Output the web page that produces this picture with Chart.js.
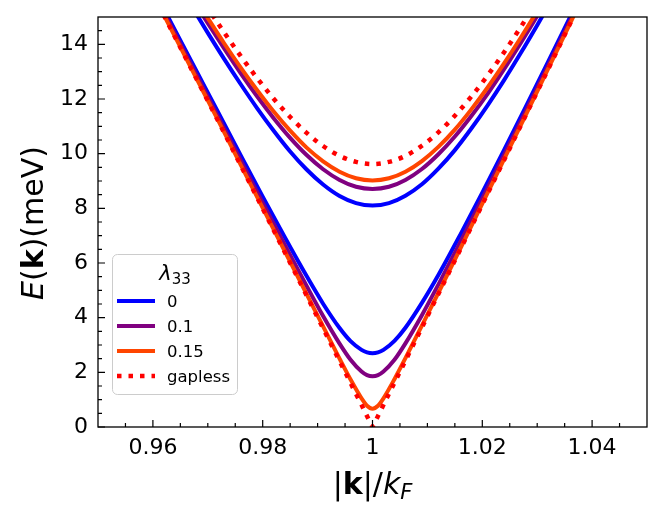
<!DOCTYPE html>
<html><head><meta charset="utf-8">
<script src="https://cdn.jsdelivr.net/npm/chart.js@4.4.1/dist/chart.umd.min.js"></script>
<style>html,body{margin:0;padding:0;background:#fff}canvas{display:block}</style>
</head><body>
<canvas id="c" width="665" height="521" style="width:665px;height:521px"></canvas>
<script>
// ---- data ----
const kUpper = [0.964,0.967,0.970,0.973,0.976,0.979,0.982,0.985,0.988,0.991,0.994,0.997,1.000,1.003,1.006,1.009,1.012,1.015,1.018,1.021,1.024,1.027,1.030,1.033,1.036];
const upperBlue   = [16.41,15.41,14.42,13.46,12.54,11.66,10.84,10.08,9.42,8.87,8.45,8.19,8.10,8.19,8.46,8.88,9.45,10.13,10.92,11.78,12.70,13.68,14.70,15.75,16.83];
const upperPurple = [16.72,15.73,14.77,13.84,12.94,12.09,11.30,10.58,9.95,9.43,9.04,8.79,8.71,8.79,9.04,9.44,9.98,10.63,11.38,12.20,13.10,14.05,15.04,16.07,17.13];
const upperOrange = [16.89,15.91,14.96,14.03,13.15,12.32,11.54,10.84,10.22,9.72,9.34,9.10,9.02,9.10,9.34,9.73,10.25,10.88,11.62,12.43,13.31,14.24,15.22,16.24,17.29];
const upperRed    = [17.21,16.26,15.33,14.43,13.57,12.76,12.01,11.34,10.76,10.28,9.92,9.70,9.62,9.70,9.92,10.29,10.78,11.39,12.09,12.87,13.72,14.63,15.59,16.58,17.61];

const kLower = [0.960,0.964,0.968,0.972,0.976,0.980,0.984,0.988,0.991,0.994,0.996,0.998,0.999,1.000,1.001,1.002,1.004,1.006,1.009,1.012,1.016,1.020,1.024,1.028,1.032,1.036,1.040];
const lowerBlue   = [16.06,14.53,13.00,11.47,9.94,8.43,6.95,5.52,4.51,3.62,3.14,2.82,2.73,2.70,2.73,2.82,3.15,3.63,4.54,5.56,7.04,8.57,10.15,11.75,13.37,15.00,16.64];
const lowerPurple = [15.94,14.40,12.85,11.30,9.75,8.20,6.67,5.16,4.06,3.05,2.46,2.03,1.90,1.86,1.90,2.03,2.46,3.06,4.09,5.21,6.76,8.35,9.96,11.59,13.22,14.87,16.53];
const lowerOrange = [15.85,14.29,12.73,11.17,9.59,8.02,6.44,4.86,3.68,2.50,1.74,1.05,0.78,0.67,0.78,1.05,1.75,2.52,3.71,4.91,6.53,8.17,9.81,11.45,13.11,14.77,16.44];
const lowerRed    = [15.83,14.28,12.71,11.15,9.57,7.99,6.40,4.81,3.61,2.41,1.61,0.81,0.40,0,0.40,0.81,1.62,2.43,3.64,4.87,6.50,8.14,9.78,11.44,13.09,14.76,16.42];

const seriesLabels = ['0','0.1','0.15','gapless'];
const legendTitle = 'λ';
const legendTitleSub = '33';

const xMajorTicks = [0.96,0.98,1.00,1.02,1.04];
const xTickLabels = ['0.96','0.98','1','1.02','1.04'];
const xMinorTicks = [0.955,0.965,0.97,0.975,0.985,0.99,0.995,1.005,1.01,1.015,1.025,1.03,1.035,1.045];
const yMajorTicks = [0,2,4,6,8,10,12,14];
const yTickLabels = ['0','2','4','6','8','10','12','14'];
const yMinorTicks = [0.5,1,1.5,2.5,3,3.5,4.5,5,5.5,6.5,7,7.5,8.5,9,9.5,10.5,11,11.5,12.5,13,13.5,14.5];

// ---- styles ----
const seriesColors = ['#0000ff','#800080','#ff4500','#ff0000'];
const FONT = "'DejaVu Sans', 'Liberation Sans', sans-serif";

function pairs(xs, ys){ return xs.map((x,i)=>({x:x, y:ys[i]})); }

const upperSets = [upperBlue, upperPurple, upperOrange, upperRed];
const lowerSets = [lowerBlue, lowerPurple, lowerOrange, lowerRed];
const datasets = [];
for (let i = 0; i < 4; i++) {
  const dotted = (i === 3);
  const common = {
    borderColor: seriesColors[i],
    borderWidth: dotted ? 4.5 : 4,
    borderDash: dotted ? [4.5, 7] : [],
    borderCapStyle: 'butt',
    borderJoinStyle: 'round',
    pointRadius: 0,
    fill: false,
    clip: 0,
    order: 3 - i
  };
  datasets.push(Object.assign({label: seriesLabels[i], data: pairs(kUpper, upperSets[i]), cubicInterpolationMode: 'monotone'}, common));
  datasets.push(Object.assign({label: seriesLabels[i], data: pairs(kLower, lowerSets[i]),
    cubicInterpolationMode: dotted ? 'default' : 'monotone', tension: 0}, common));
}

function drawRich(ctx, segs, x, y) {
  let total = 0;
  segs.forEach(s => { ctx.font = s.font; s.w = ctx.measureText(s.t).width; total += s.w; });
  let cx = x - total / 2;
  ctx.textBaseline = 'alphabetic';
  ctx.textAlign = 'left';
  segs.forEach(s => { ctx.font = s.font; ctx.fillText(s.t, cx, y + (s.dy || 0)); cx += s.w; });
}

const framePlugin = {
  id: 'frameTicks',
  afterDatasetsDraw(chart) {
    const ctx = chart.ctx, a = chart.chartArea;
    const xs = chart.scales.x, ys = chart.scales.y;
    ctx.save();
    ctx.strokeStyle = '#000';
    ctx.lineWidth = 1.2;
    ctx.beginPath();
    xMajorTicks.forEach(v => { const p = xs.getPixelForValue(v); ctx.moveTo(p, a.bottom); ctx.lineTo(p, a.bottom - 7); });
    xMinorTicks.forEach(v => { const p = xs.getPixelForValue(v); ctx.moveTo(p, a.bottom); ctx.lineTo(p, a.bottom - 4); });
    yMajorTicks.forEach(v => { const p = ys.getPixelForValue(v); ctx.moveTo(a.left, p); ctx.lineTo(a.left + 7, p); });
    yMinorTicks.forEach(v => { const p = ys.getPixelForValue(v); ctx.moveTo(a.left, p); ctx.lineTo(a.left + 4, p); });
    ctx.stroke();
    ctx.lineWidth = 1.3;
    ctx.strokeRect(a.left, a.top, a.right - a.left, a.bottom - a.top);
    ctx.restore();
  },
  afterDraw(chart) {
    const ctx = chart.ctx;
    ctx.save();
    // axis titles
    ctx.fillStyle = '#000';
    drawRich(ctx, [
      {t: '|', font: `30px ${FONT}`},
      {t: 'k', font: `bold 30px ${FONT}`},
      {t: '|/', font: `30px ${FONT}`},
      {t: 'k', font: `italic 30px ${FONT}`},
      {t: 'F', font: `italic 21px ${FONT}`, dy: 5}
    ], (chart.chartArea.left + chart.chartArea.right) / 2, 494);
    ctx.save();
    ctx.translate(43, 223);
    ctx.rotate(-Math.PI / 2);
    drawRich(ctx, [
      {t: 'E', font: `italic 30px ${FONT}`},
      {t: '(', font: `30px ${FONT}`},
      {t: 'k', font: `bold 30px ${FONT}`},
      {t: ')(meV)', font: `30px ${FONT}`}
    ], 0, 0);
    ctx.restore();

    // legend
    const bx = 112.5, by = 254.5, bw = 125, bh = 140, r = 5;
    ctx.beginPath();
    ctx.moveTo(bx + r, by);
    ctx.arcTo(bx + bw, by, bx + bw, by + bh, r);
    ctx.arcTo(bx + bw, by + bh, bx, by + bh, r);
    ctx.arcTo(bx, by + bh, bx, by, r);
    ctx.arcTo(bx, by, bx + bw, by, r);
    ctx.closePath();
    ctx.fillStyle = 'rgba(255,255,255,0.8)';
    ctx.fill();
    ctx.strokeStyle = '#cccccc';
    ctx.lineWidth = 1;
    ctx.stroke();

    ctx.fillStyle = '#000';
    drawRich(ctx, [
      {t: legendTitle, font: `italic 21px ${FONT}`},
      {t: legendTitleSub, font: `15px ${FONT}`, dy: 4}
    ], bx + bw / 2, 280);

    seriesLabels.forEach((lab, i) => {
      const yb = 307 + i * 25;
      const yl = yb - 6;
      ctx.beginPath();
      ctx.strokeStyle = seriesColors[i];
      ctx.lineWidth = i === 3 ? 4.5 : 4;
      ctx.lineCap = 'butt';
      ctx.setLineDash(i === 3 ? [4.5, 7] : []);
      ctx.moveTo(117, yl);
      ctx.lineTo(155, yl);
      ctx.stroke();
      ctx.setLineDash([]);
      ctx.fillStyle = '#000';
      ctx.font = `16.5px ${FONT}`;
      ctx.textAlign = 'left';
      ctx.textBaseline = 'alphabetic';
      ctx.fillText(lab, 167, yb);
    });
    ctx.restore();
  }
};

new Chart(document.getElementById('c'), {
  type: 'line',
  data: { datasets: datasets },
  options: {
    responsive: false,
    animation: false,
    devicePixelRatio: 1,
    layout: { padding: { left: 0, top: 17, right: 18, bottom: 0 } },
    plugins: { legend: { display: false }, tooltip: { enabled: false }, title: { display: false } },
    scales: {
      x: {
        type: 'linear', min: 0.95, max: 1.05,
        grid: { display: false, drawTicks: false },
        border: { display: false },
        afterBuildTicks: s => { s.ticks = xMajorTicks.map(v => ({value: v})); },
        afterFit: s => { s.height = 94; s.paddingLeft = 0; s.paddingRight = 0; },
        ticks: {
          autoSkip: false, maxRotation: 0, padding: 8, color: '#000',
          font: { family: FONT, size: 22 },
          callback: (v, i) => xTickLabels[i]
        }
      },
      y: {
        type: 'linear', min: 0, max: 15,
        grid: { display: false, drawTicks: false },
        border: { display: false },
        afterBuildTicks: s => { s.ticks = yMajorTicks.map(v => ({value: v})); },
        afterFit: s => { s.width = 98; s.paddingTop = 0; s.paddingBottom = 0; },
        ticks: {
          autoSkip: false, padding: 10, color: '#000',
          font: { family: FONT, size: 22 },
          callback: (v, i) => yTickLabels[i]
        }
      }
    }
  },
  plugins: [framePlugin]
});
</script>
</body></html>
